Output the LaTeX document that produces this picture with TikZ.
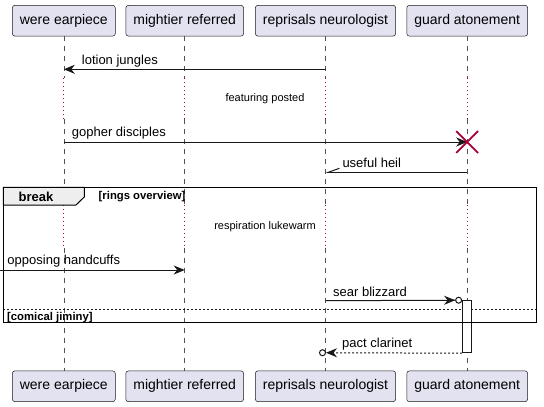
\documentclass[tikz,border=0pt]{standalone}
\usepackage{fontspec}
\setmainfont{Liberation Sans}
\definecolor{partfill}{HTML}{E2E2F0}
\definecolor{umlline}{HTML}{181818}
\definecolor{umlred}{HTML}{A80036}
\definecolor{tabgray}{HTML}{EEEEEE}
\usetikzlibrary{arrows.meta,shapes.misc,positioning,calc}

\begin{document}
\begin{tikzpicture}[x=1pt, y=-1pt,
    part/.style={draw=umlline, line width=0.5pt, rounded corners=2.5pt, fill=partfill, minimum height=30.7pt, inner xsep=7.5pt, font=\fontsize{14}{16}\selectfont},
    lifeline/.style={umlline!75, line width=0.5pt, dash pattern=on 5pt off 5pt},
    delayline/.style={umlred, line width=0.8pt, dash pattern=on 1pt off 3pt},
    msg/.style={umlline, line width=1pt, -{Stealth[length=11pt, width=9pt, inset=3.5pt]}},
    msgtext/.style={anchor=west, inner sep=0pt, font=\fontsize{13}{15}\selectfont},
    delaytext/.style={inner sep=0pt, font=\fontsize{11}{13}\selectfont},
    condtext/.style={anchor=west, inner sep=0pt, font=\fontsize{11.3}{13}\selectfont\bfseries}]
    \useasboundingbox (0,0) rectangle (544,407);

    % Participants, top and bottom
    \foreach \p/\t/\x in {were/were earpiece/63.8, might/mightier referred/184.7, repr/reprisals neurologist/325.5, guard/guard atonement/467.2} {
        \node[part] (\p T) at (\x,20.7) {\t};
        \node[part] (\p B) at (\x,386.3) {\t};
    }

    % Delays
    \coordinate (dlyA) at (0,78);
    \coordinate (dlyB) at (0,119.3);
    \coordinate (dlyC) at (0,204.8);
    \coordinate (dlyD) at (0,247.6);

    % Lifelines
    \foreach \p in {were,might,repr,guard} {
        \draw[lifeline] (\p T.south) -- (\p T.south |- dlyA);
        \draw[delayline] (\p T.south |- dlyA) -- (\p T.south |- dlyB);
        \draw[lifeline] (\p T.south |- dlyB) -- (\p T.south |- dlyC);
        \draw[delayline] (\p T.south |- dlyC) -- (\p T.south |- dlyD);
        \draw[lifeline] (\p T.south |- dlyD) -- (\p B.north);
    }
    \node[delaytext] (featuring) at (265,99) {featuring posted};
    \node[delaytext] (respiration) at (265,226.8) {respiration lukewarm};

    % Message rows
    \coordinate (rowA) at (0,69.3);
    \coordinate (rowB) at (0,142);
    \coordinate (rowC) at (0,172.3);
    \coordinate (rowD) at (0,270);
    \coordinate (rowE) at (0,300.7);
    \coordinate (rowF) at (0,352.7);

    % Break group
    \draw[umlline, line width=0.7pt, dash pattern=on 2pt off 2pt] (3.3,309) -- (536.7,309);
    \node[draw=umlline, fill=white, line width=1pt, minimum width=9.3pt, minimum height=52pt, inner sep=0pt] (guardAct) at (467.3,326.7) {};
    \draw[line width=1.5pt] (3.3,187.3) rectangle (536.7,322.7);
    \filldraw[fill=tabgray, line width=1pt] (3.3,187.3) -- (84.3,187.3) -- (84.3,197) -- (76,205) -- (3.3,205) -- cycle;
    \node[inner sep=0pt, font=\fontsize{13}{15}\selectfont\bfseries] (brkTag) at (36,197) {break};
    \node[condtext] (brkCond) at (98.5,197) {[rings overview]};
    \node[condtext] (elseCond) at (7,317.2) {[comical jiminy]};

    % Arrows
    \draw[msg] (reprT |- rowA) -- (wereT |- rowA);
    \coordinate (destroy) at (guardT |- rowB);
    \draw[msg] (wereT |- rowB) -- (destroy);
    \node[cross out, draw=umlred, line width=1.8pt, minimum size=20pt, inner sep=0pt] (guardX) at (destroy) {};
    \draw[umlline, line width=1pt, -{Straight Barb[harpoon, swap, length=11pt, width=8pt]}] (guardT |- rowC) -- (reprT |- rowC);
    \coordinate (outside) at (0,270);
    \draw[msg] (outside) -- (mightT |- rowD);
    \draw[msg, -{Stealth[length=11pt, width=9pt, inset=3.5pt] Circle[open, length=7pt]}] (reprT |- rowE) -- (guardAct.north west);
    \coordinate (pactEnd) at ($(reprT |- rowF) + (-6.5,0)$);
    \draw[msg, dash pattern=on 2pt off 2pt, -{Stealth[length=11pt, width=9pt, inset=3.5pt] Circle[open, length=7pt]}] (guardAct.south west) -- (pactEnd);

    % Labels
    \node[msgtext] (lotion) at (81.7,60.7) {lotion jungles};
    \node[msgtext] (gopher) at (71.7,132.7) {gopher disciples};
    \node[msgtext] (useful) at (342.3,163.3) {useful heil};
    \node[msgtext] (opposing) at (7.3,261) {opposing handcuffs};
    \node[msgtext] (sear) at (333,291.7) {sear blizzard};
    \node[msgtext] (pact) at (342,343.7) {pact clarinet};
\end{tikzpicture}
\end{document}
